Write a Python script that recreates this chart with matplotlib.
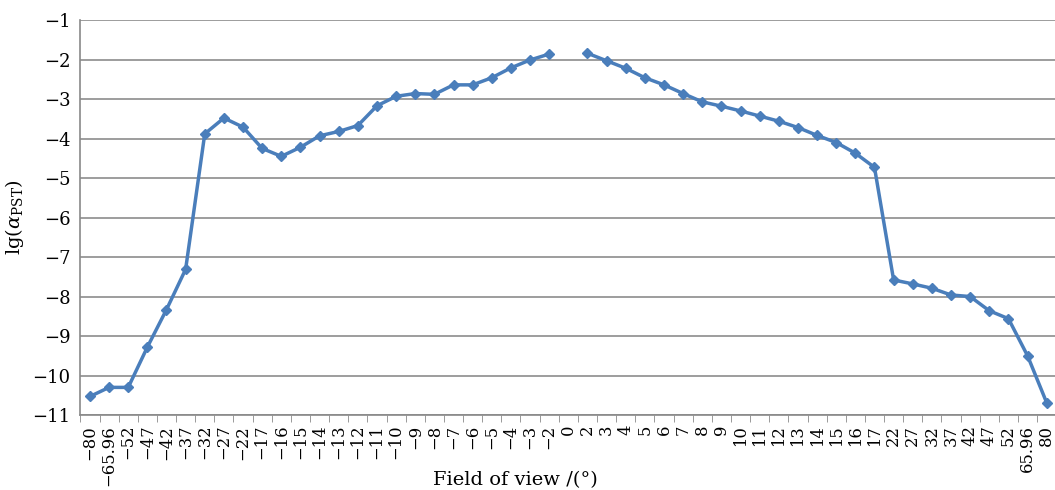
import numpy as np
import matplotlib
matplotlib.use("Agg")
import matplotlib.pyplot as plt
from matplotlib.ticker import FixedLocator

plt.rcParams["font.family"] = ["DejaVu Serif"]
plt.rcParams["mathtext.fontset"] = "dejavuserif"

# Field-of-view categories (degrees) and lg(alpha_PST) values; 0 deg has no value
fov_labels = ["-80", "-65.96", "-52", "-47", "-42", "-37", "-32", "-27", "-22",
              "-17", "-16", "-15", "-14", "-13", "-12", "-11", "-10", "-9", "-8",
              "-7", "-6", "-5", "-4", "-3", "-2", "0", "2", "3", "4", "5", "6",
              "7", "8", "9", "10", "11", "12", "13", "14", "15", "16", "17",
              "22", "27", "32", "37", "42", "47", "52", "65.96", "80"]
lg_pst = [-10.53, -10.30, -10.30, -9.28, -8.33, -7.31, -3.88, -3.48, -3.71,
          -4.25, -4.45, -4.22, -3.93, -3.82, -3.67, -3.17, -2.93, -2.86, -2.88,
          -2.64, -2.64, -2.46, -2.21, -2.01, -1.86, np.nan, -1.84, -2.03, -2.22,
          -2.46, -2.64, -2.86, -3.07, -3.18, -3.30, -3.43, -3.56, -3.72, -3.92,
          -4.10, -4.37, -4.73, -7.58, -7.68, -7.79, -7.96, -8.00, -8.36, -8.56,
          -9.50, -10.69]

y_ticks = np.arange(-11, 0, 1)

fig = plt.figure(figsize=(10.55, 4.9), dpi=100)
# axes runs slightly past the right edge, as in the source image
ax = fig.add_axes([0.0762, 0.153, 0.925, 0.806])

x = np.arange(len(fov_labels))
ax.plot(x, lg_pst, color="#4A7EBB", lw=2.5, marker="D", markersize=5,
        markerfacecolor="#4A7EBB", markeredgecolor="#4A7EBB", zorder=3,
        clip_on=False)

ax.set_xlim(-0.5, len(fov_labels) - 0.5)
ax.set_ylim(-11, -1)
ax.set_yticks(y_ticks)
ax.set_yticklabels([str(v).replace("-", "\u2212") for v in y_ticks], fontsize=13)

ax.set_xticks(x)
ax.set_xticklabels([s.replace("-", "\u2212") for s in fov_labels],
                   rotation=90, fontsize=11.8)
ax.xaxis.set_minor_locator(FixedLocator(np.arange(-0.5, len(fov_labels), 1)))
ax.tick_params(axis="x", which="major", length=0, pad=7)
ax.tick_params(axis="x", which="minor", length=5, color="#898989", direction="out")
ax.tick_params(axis="y", length=0, pad=7)

ax.grid(axis="y", color="#8C8C8C", lw=1.2)
ax.set_axisbelow(True)
for side in ["top", "right"]:
    ax.spines[side].set_visible(False)
for side in ["left", "bottom"]:
    ax.spines[side].set_color("#898989")
    ax.spines[side].set_linewidth(1.2)

ax.set_xlabel("Field of view /(°)", fontsize=14)
ax.xaxis.set_label_coords(0.446, -0.142)
ax.set_ylabel(r"lg($\alpha_{\rm PST}$)", fontsize=14)
ax.yaxis.set_label_coords(-0.056, 0.5)

fig.savefig("out.png", dpi=100)
